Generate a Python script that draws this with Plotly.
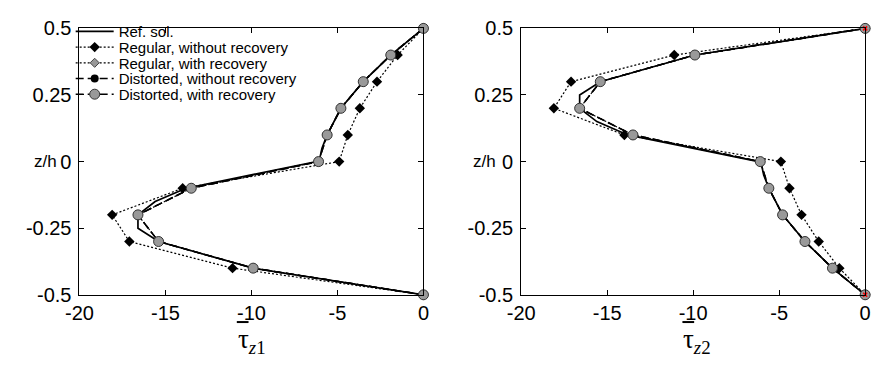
import plotly.graph_objects as go

# ---------------- data ----------------
z_pts = [0.5, 0.4, 0.3, 0.2, 0.1, 0.0, -0.1, -0.2, -0.3, -0.4, -0.5]

# left panel: tau_z1
z1_ref = [0.5, 0.4, 0.3, 0.2, 0.1, 0.05, 0.02, 0.0, -0.1, -0.15, -0.2, -0.25, -0.3, -0.4, -0.5]
t1_ref = [0.0, -1.9, -3.5, -4.8, -5.6, -5.9, -6.0, -6.2, -13.8, -15.6, -16.6, -16.6, -15.4, -9.9, 0.0]
t1_reg_norec = [0.0, -1.5, -2.7, -3.7, -4.4, -4.9, -14.0, -18.1, -17.1, -11.1, 0.0]
t1_reg_rec = [0.0, -1.9, -3.5, -4.8, -5.6, -6.1, -13.5, -16.6, -15.4, -9.9, 0.0]
t1_dis_norec = [0.0, -1.9, -3.5, -4.8, -5.6, -6.1, -13.5, -16.6, -15.4, -9.9, 0.0]
t1_dis_rec = [0.0, -1.9, -3.5, -4.8, -5.6, -6.1, -13.5, -16.6, -15.4, -9.9, 0.0]

# right panel: tau_z2
z2_ref = [0.5, 0.4, 0.3, 0.25, 0.2, 0.15, 0.1, 0.0, -0.02, -0.05, -0.1, -0.2, -0.3, -0.4, -0.5]
t2_ref = [0.0, -9.9, -15.4, -16.6, -16.6, -15.6, -13.8, -6.2, -6.0, -5.9, -5.6, -4.8, -3.5, -1.9, 0.0]
t2_reg_norec = [0.0, -11.1, -17.1, -18.1, -14.0, -4.9, -4.4, -3.7, -2.7, -1.5, 0.0]
t2_reg_rec = [0.0, -9.9, -15.4, -16.6, -13.5, -6.1, -5.6, -4.8, -3.5, -1.9, 0.0]
t2_dis_norec = [0.0, -9.9, -15.4, -16.6, -13.5, -6.1, -5.6, -4.8, -3.5, -1.9, 0.0]
t2_dis_rec = [0.0, -9.9, -15.4, -16.6, -13.5, -6.1, -5.6, -4.8, -3.5, -1.9, 0.0]

red_z = [0.5, -0.5]
red_t = [0.0, 0.0]

names = ["Ref. sol.", "Regular, without recovery", "Regular, with recovery",
         "Distorted, without recovery", "Distorted, with recovery"]
x_ticks = [-20, -15, -10, -5, 0]
y_ticks = [-0.5, -0.25, 0, 0.25, 0.5]
y_ticktext = ["-0.5", "-0.25", "0", "0.25", "0.5"]

W, H = 878, 365
GRAY = "#999999"

fig = go.Figure()

def add_panel(xa, ya, ref_x, ref_z, rn, rr, dn, dr, show):
    legs = ["legend", "legend2", "legend3", "legend4", "legend5"]
    fig.add_trace(go.Scatter(x=ref_x, y=ref_z, mode="lines", name=names[0],
                             line=dict(color="black", width=1.7),
                             xaxis=xa, yaxis=ya, showlegend=show, legend=legs[0],
                             cliponaxis=False))
    fig.add_trace(go.Scatter(x=rr, y=z_pts, mode="lines+markers", name=names[2],
                             line=dict(color="black", width=1.2, dash="2px,2px"),
                             marker=dict(symbol="diamond", size=7, color=GRAY,
                                         line=dict(color="#444", width=1)),
                             xaxis=xa, yaxis=ya, showlegend=show, legend=legs[2],
                             cliponaxis=False))
    fig.add_trace(go.Scatter(x=dn, y=z_pts, mode="lines+markers", name=names[3],
                             line=dict(color="black", width=1.5, dash="8px,4px"),
                             marker=dict(symbol="circle", size=8, color="black"),
                             xaxis=xa, yaxis=ya, showlegend=show, legend=legs[3],
                             cliponaxis=False))
    fig.add_trace(go.Scatter(x=rn, y=z_pts, mode="lines+markers", name=names[1],
                             line=dict(color="black", width=1.2, dash="2px,2px"),
                             marker=dict(symbol="diamond", size=8, color="black"),
                             xaxis=xa, yaxis=ya, showlegend=show, legend=legs[1],
                             cliponaxis=False))
    fig.add_trace(go.Scatter(x=dr, y=z_pts, mode="lines+markers", name=names[4],
                             line=dict(color="black", width=1.5, dash="8px,4px"),
                             marker=dict(symbol="circle", size=10, color=GRAY,
                                         line=dict(color="#333", width=1)),
                             xaxis=xa, yaxis=ya, showlegend=show, legend=legs[4],
                             cliponaxis=False))

add_panel("x", "y", t1_ref, z1_ref, t1_reg_norec, t1_reg_rec, t1_dis_norec, t1_dis_rec, True)
add_panel("x2", "y2", t2_ref, z2_ref, t2_reg_norec, t2_reg_rec, t2_dis_norec, t2_dis_rec, False)
fig.add_trace(go.Scatter(x=red_t, y=red_z, mode="markers", showlegend=False,
                         marker=dict(symbol="x-thin-open", size=4, color="red",
                                     line=dict(color="red", width=1.5)),
                         xaxis="x2", yaxis="y2", cliponaxis=False))

tickfont = dict(family="Liberation Sans, Arial, sans-serif", size=20, color="black")
axcommon = dict(range=[-20, 0], tickvals=x_ticks, ticktext=[str(v) for v in x_ticks],
                showline=True, linecolor="black", linewidth=1, mirror="ticks",
                ticks="inside", ticklen=5, tickcolor="black", showgrid=False,
                zeroline=False, tickfont=tickfont, ticklabelstandoff=0)
aycommon = dict(range=[-0.5, 0.5], tickvals=y_ticks, ticktext=y_ticktext,
                showline=True, linecolor="black", linewidth=1, mirror="ticks",
                ticks="inside", ticklen=5, tickcolor="black", showgrid=False,
                zeroline=False, tickfont=tickfont, ticklabelstandoff=3)

ydom = [63 / H, 346.5 / H]
layout = dict(
    width=W, height=H, margin=dict(l=0, r=0, t=0, b=0),
    paper_bgcolor="white", plot_bgcolor="white",
    xaxis=dict(domain=[67 / W, 419 / W], anchor="y", **axcommon),
    yaxis=dict(domain=ydom, anchor="x", **aycommon),
    xaxis2=dict(domain=[519 / W, 871 / W], anchor="y2", **axcommon),
    yaxis2=dict(domain=ydom, anchor="x2", **aycommon),
)

leg_font = dict(family="Liberation Sans, Arial, sans-serif", size=15, color="black")
leg_centers = [22.0, 38.7, 55.4, 72.1, 88.8]
for i, yc in enumerate(leg_centers):
    key = "legend" if i == 0 else f"legend{i+1}"
    layout[key] = dict(x=58 / W, xanchor="left", y=1 - yc / H, yanchor="middle",
                       bgcolor="rgba(0,0,0,0)", borderwidth=0, font=leg_font,
                       itemwidth=38, tracegroupgap=0)

fig.update_layout(**layout)

# axis titles
serif = dict(family="Liberation Serif, Times New Roman, serif", size=27, color="black")
for cx, lab in [(234, "τ<sub><i>z</i>1</sub>"), (690, "τ<sub><i>z</i>2</sub>")]:
    fig.add_annotation(text=lab, xref="paper", yref="paper", x=(cx - 7) / W, y=1 - 351 / H,
                       xanchor="left", yanchor="middle", showarrow=False, font=serif)
    fig.add_shape(type="line", xref="paper", yref="paper",
                  x0=(cx - 6) / W, x1=(cx + 6) / W, y0=1 - 331 / H, y1=1 - 331 / H,
                  line=dict(color="black", width=2))

for cx, ya in [(32, "y"), (481, "y2")]:
    fig.add_annotation(text="z/h", xref="paper", yref=ya, x=cx / W, y=0,
                       xanchor="center", yanchor="middle", showarrow=False,
                       font=dict(family="Liberation Sans, Arial, sans-serif", size=17, color="black"))

fig.write_html("out.html")
